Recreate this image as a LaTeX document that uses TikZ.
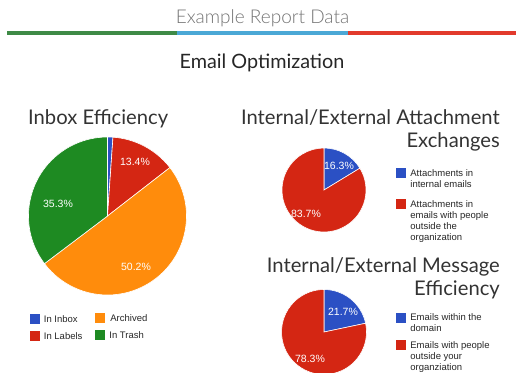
\documentclass[tikz,border=0pt]{standalone}
\usepackage{fontspec}
\usetikzlibrary{positioning}
\setmainfont{Liberation Sans}
\newfontfamily\headfont{Lato}
\IfFontExistsTF{Lato Light}{\newfontfamily\thinfont{Lato Light}}{\newfontfamily\thinfont{Lato}}

\definecolor{barGreen}{HTML}{3E8A46}
\definecolor{barBlue}{HTML}{4BA8D6}
\definecolor{barRed}{HTML}{E23A2C}
\definecolor{pieBlue}{HTML}{2B50C4}
\definecolor{pieRed}{HTML}{D42613}
\definecolor{pieOrange}{HTML}{FF8C0C}
\definecolor{pieGreen}{HTML}{1E8A22}

\tikzset{
  charttitle/.style={font=\headfont\fontsize{20.2}{23}\selectfont, text=black!80, inner sep=0pt},
  pct/.style={text=white, font=\fontsize{10.5}{12}\selectfont, inner sep=0pt},
  key/.style={minimum size=10pt, inner sep=0pt},
  keytext/.style={font=\fontsize{9.5}{11}\selectfont, text=black!85, align=left, inner sep=0pt},
  slice/.style={draw=white, line width=0.6pt}
}

\begin{document}
\begin{tikzpicture}[x=1pt, y=1pt]

  \useasboundingbox (0,0) rectangle (516,-372);

  \node[font=\thinfont\fontsize{19}{20}\selectfont, text=black!55] (report) at (262.5,-18) {Example Report Data};
  \fill[barGreen] (7,-31) rectangle (177,-34.5);
  \fill[barBlue]  (177,-31) rectangle (348,-34.5);
  \fill[barRed]   (348,-31) rectangle (516,-34.5);

  \node[font=\headfont\fontsize{19.8}{21}\selectfont, text=black!85, anchor=base] (topic) at (262,-68.5) {Email Optimization};

  % inbox efficiency
  \node[charttitle, anchor=base west] (inboxtitle) at (28,-124) {Inbox Efficiency};
  \coordinate (inbox) at (107.5,-216);
  \foreach \a/\b/\c in {90/86.04/pieBlue, 86.04/37.8/pieRed, 37.8/-142.92/pieOrange, -142.92/-270/pieGreen}
    \fill[\c, slice] (inbox) -- ++(\a:79pt) arc (\a:\b:79pt) -- cycle;
  \node[pct] (plabels)  at (135,-162) {13.4\%};
  \node[pct] (ptrash)   at (58,-204)  {35.3\%};
  \node[pct] (parchive) at (136,-267) {50.2\%};

  \node[key, fill=pieBlue]   (kinbox)   at (34.5,-319) {};
  \node[key, fill=pieRed]    (klabels)  at (34.5,-336) {};
  \node[key, fill=pieOrange] (karchive) at (100,-318)  {};
  \node[key, fill=pieGreen]  (ktrash)   at (100,-335)  {};
  \node[keytext, right=4pt of kinbox]   (tinbox)   {In Inbox};
  \node[keytext, right=4pt of klabels]  (tlabels)  {In Labels};
  \node[keytext, right=5pt of karchive] (tarchive) {Archived};
  \node[keytext, right=4pt of ktrash]   (ttrash)   {In Trash};

  % attachment exchanges
  \node[charttitle, anchor=base east, align=right] (attachtitle) at (500,-147.5)
    {Internal/External Attachment\\Exchanges};
  \coordinate (attach) at (324,-190);
  \foreach \a/\b/\c in {90/31.32/pieBlue, 31.32/-270/pieRed}
    \fill[\c, slice] (attach) -- ++(\a:42pt) arc (\a:\b:42pt) -- cycle;
  \node[pct] (pinternal) at (339,-166) {16.3\%};
  \node[pct] (pexternal) at (306,-214) {83.7\%};

  \node[key, fill=pieBlue] (kinternal) at (401,-173) {};
  \node[key, fill=pieRed]  (kexternal) at (401,-204) {};
  \node[keytext, anchor=north west] (tinternal) at ([xshift=4pt,yshift=-1.5pt]kinternal.north east)
    {Attachments in\\internal emails};
  \node[keytext, anchor=north west] (texternal) at ([xshift=4pt,yshift=-1.5pt]kexternal.north east)
    {Attachments in\\emails with people\\outside the\\organization};

  % message efficiency
  \node[charttitle, anchor=base east, align=right] (msgtitle) at (500,-295)
    {Internal/External Message\\Efficiency};
  \coordinate (msg) at (324,-332);
  \foreach \a/\b/\c in {90/11.88/pieBlue, 11.88/-270/pieRed}
    \fill[\c, slice] (msg) -- ++(\a:42.5pt) arc (\a:\b:42.5pt) -- cycle;
  \node[pct] (pdomain)  at (343,-312) {21.7\%};
  \node[pct] (poutside) at (310,-359) {78.3\%};

  \node[key, fill=pieBlue] (kdomain)  at (401,-317.5) {};
  \node[key, fill=pieRed]  (koutside) at (401,-345) {};
  \node[keytext, anchor=north west] (tdomain) at ([xshift=4pt,yshift=-1.5pt]kdomain.north east)
    {Emails within the\\domain};
  \node[keytext, anchor=north west] (toutside) at ([xshift=4pt,yshift=-1.5pt]koutside.north east)
    {Emails with people\\outside your\\organziation};

\end{tikzpicture}
\end{document}
